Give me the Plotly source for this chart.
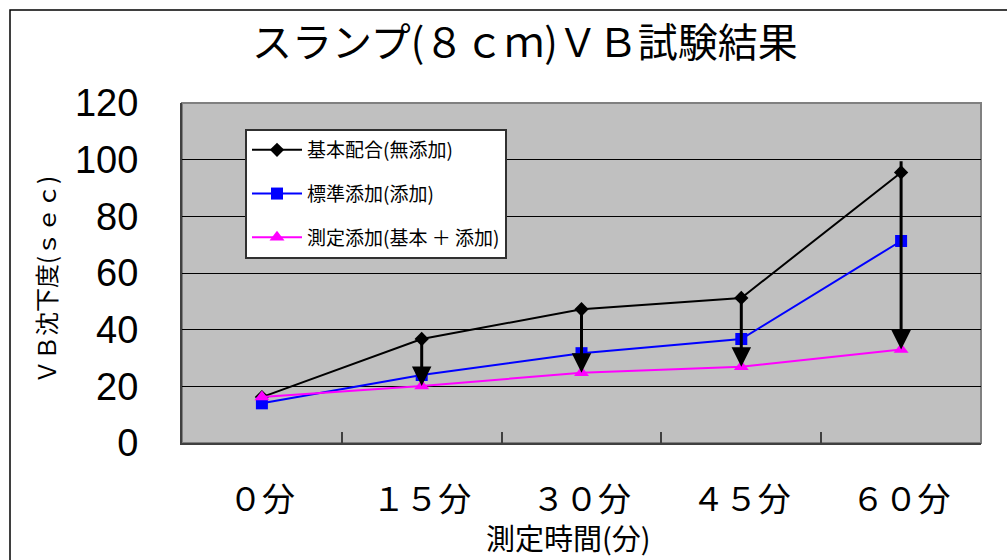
import plotly.graph_objects as go

# ---- data ----
categories = ["０分", "１５分", "３０分", "４５分", "６０分"]
basic_mix = [16.2, 36.7, 47.2, 51.2, 95.5]          # 基本配合(無添加)
standard_add = [14.0, 24.0, 31.7, 36.7, 71.3]       # 標準添加(添加)
measured_add = [16.2, 20.1, 24.8, 26.9, 33.0]       # 測定添加(基本＋添加)
arrow_from = [None, 36.7, 47.2, 51.2, 100.0]        # arrow tails (values)
y_ticks = [0, 20, 40, 60, 80, 100, 120]

series_names = ["基本配合(無添加)", "標準添加(添加)", "測定添加(基本 ＋ 添加)"]

W, H = 1007, 560
L, R, T, B = 182, 26, 103, 117
pw, ph = W - L - R, H - T - B


def px(x):
    return (x - L) / pw


def py(y):
    return (H - B - y) / ph


CJK = "Noto Sans CJK JP"

fig = go.Figure()
fig.add_trace(go.Scatter(
    x=categories, y=basic_mix, name=series_names[0], mode="lines+markers",
    line=dict(color="black", width=2),
    marker=dict(symbol="diamond", size=11, color="black"),
    legendgroup="a"))
fig.add_trace(go.Scatter(
    x=categories, y=standard_add, name=series_names[1], mode="lines+markers",
    line=dict(color="#0000FF", width=2),
    marker=dict(symbol="square", size=12, color="#0000FF"),
    legendgroup="b"))
fig.add_trace(go.Scatter(
    x=categories, y=measured_add, name=series_names[2], mode="lines+markers",
    line=dict(color="#FF00FF", width=2),
    marker=dict(symbol="triangle-up", size=13, color="#FF00FF"),
    legendgroup="c"))

annotations = []
for cat, top, bottom in zip(categories, arrow_from, measured_add):
    if top is None:
        continue
    annotations.append(dict(
        x=cat, y=bottom, ax=cat, ay=top, xref="x", yref="y", axref="x", ayref="y",
        showarrow=True, arrowhead=2, arrowsize=1.3, arrowwidth=3,
        arrowcolor="black", standoff=0, text=""))

annotations += [
    dict(text="スランプ(８ｃｍ)ＶＢ試験結果", x=px(525), y=py(40), xref="paper", yref="paper",
         showarrow=False, font=dict(family=CJK, size=40, color="black"),
         xanchor="center", yanchor="middle"),
    dict(text="測定時間(分)", x=px(568), y=py(537), xref="paper", yref="paper",
         showarrow=False, font=dict(family=CJK, size=29, color="black"),
         xanchor="center", yanchor="middle"),
    dict(text="ＶＢ沈下度(ｓｅｃ)", x=px(45), y=py(280), xref="paper", yref="paper",
         showarrow=False, textangle=-90, font=dict(family=CJK, size=24, color="black"),
         xanchor="center", yanchor="middle"),
]

shapes = [
    # outer chart frame
    dict(type="rect", xref="paper", yref="paper",
         x0=px(10), x1=px(1030), y0=py(10), y1=py(580),
         line=dict(color="black", width=1.5), layer="below"),
    # plot area border
    dict(type="rect", xref="paper", yref="paper", x0=0, x1=1, y0=0, y1=1,
         line=dict(color="#808080", width=2), layer="below"),
]

fig.update_layout(
    width=W, height=H,
    margin=dict(l=L, r=R, t=T, b=B),
    paper_bgcolor="white", plot_bgcolor="#C0C0C0",
    showlegend=True,
    legend=dict(x=px(245), y=py(129), xanchor="left", yanchor="top",
                bgcolor="white", bordercolor="#303030", borderwidth=2,
                font=dict(family=CJK, size=19, color="black"),
                tracegroupgap=16, itemwidth=50,
                traceorder="grouped"),
    annotations=annotations,
    shapes=shapes,
)

fig.update_xaxes(
    type="category", categoryorder="array", categoryarray=categories,
    range=[-0.5, len(categories) - 0.5],
    showgrid=False, tickson="boundaries", ticks="inside", ticklen=11,
    tickwidth=1.5, tickcolor="#404040",
    showline=True, linecolor="#404040", linewidth=2,
    tickfont=dict(family=CJK, size=33, color="black"),
    ticklabelstandoff=26, zeroline=False,
)
fig.update_yaxes(
    range=[0, 120], tickvals=y_ticks, ticktext=[str(v) for v in y_ticks],
    showgrid=True, gridcolor="black", gridwidth=1,
    showline=True, linecolor="#404040", linewidth=2,
    ticks="", zeroline=False,
    tickfont=dict(family="Liberation Sans", size=38, color="black"),
    ticklabelstandoff=34,
)

fig.write_html("out.html")
